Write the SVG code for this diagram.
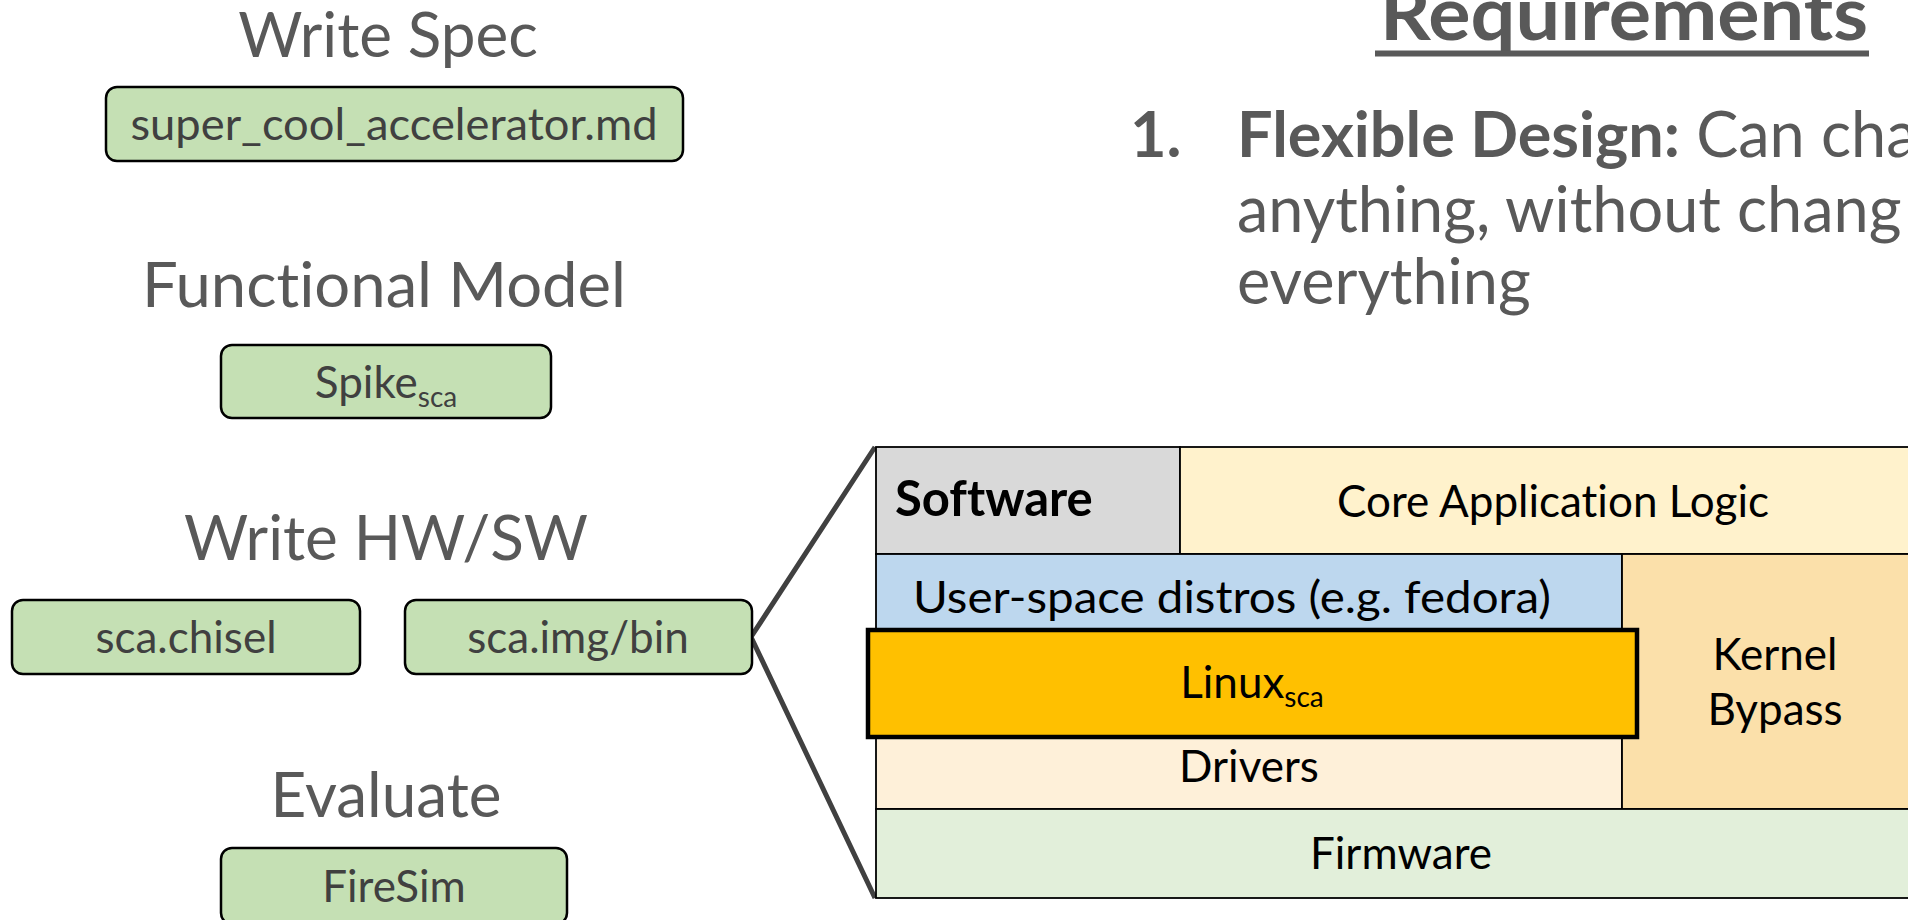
<svg xmlns="http://www.w3.org/2000/svg" width="1908" height="920" viewBox="0 0 1908 920">
<style>
text{font-variant-ligatures:none;font-feature-settings:"liga" 0,"clig" 0}
.hd{font-family:Lato,"Open Sans","Liberation Sans",sans-serif;font-size:62px;fill:#595959;text-anchor:middle}
.bx{fill:#C5E0B4;stroke:#000;stroke-width:2.5}
.bt{font-family:Lato,"Open Sans","Liberation Sans",sans-serif;font-size:44px;fill:#404040;text-anchor:middle}
.cell{stroke:#000;stroke-width:1.8}
.st{font-family:Lato,"Open Sans","Liberation Sans",sans-serif;font-size:44px;fill:#000;text-anchor:middle}
.rq{font-family:Lato,"Open Sans","Liberation Sans",sans-serif;font-size:63px;fill:#595959}
.sub{font-size:28px}
</style>
<rect width="1908" height="920" fill="#FFFFFF"/>

<g id="connectors">
<polyline points="875,447 751,637 875,898" fill="none" stroke="#404040" stroke-width="5" stroke-linejoin="miter"/>
</g>

<g id="write-spec">
<text class="hd" x="388" y="57">Write Spec</text>
<rect class="bx" x="106" y="87" width="577" height="74" rx="11"/>
<text class="bt" x="394" y="140" textLength="527" lengthAdjust="spacingAndGlyphs">super_cool_accelerator.md</text>
</g>

<g id="functional-model">
<text class="hd" x="384" y="307" textLength="484" lengthAdjust="spacingAndGlyphs">Functional Model</text>
<rect class="bx" x="221" y="345" width="330" height="73" rx="11"/>
<text class="bt" x="386" y="398">Spike<tspan class="sub" dy="9">sca</tspan></text>
</g>

<g id="write-hwsw">
<text class="hd" x="386" y="560">Write HW/SW</text>
</g>
<g id="sca-chisel">
<rect class="bx" x="12" y="600" width="348" height="74" rx="11"/>
<text class="bt" x="186" y="653">sca.chisel</text>
</g>
<g id="sca-img">
<rect class="bx" x="405" y="600" width="347" height="74" rx="11"/>
<text class="bt" x="578" y="653">sca.img/bin</text>
</g>

<g id="evaluate">
<text class="hd" x="386" y="817">Evaluate</text>
<rect class="bx" x="221" y="848" width="346" height="76" rx="11"/>
<text class="bt" x="394" y="902">FireSim</text>
</g>

<g id="requirements">
<text x="1380" y="40" font-family="Lato,'Open Sans','Liberation Sans',sans-serif" font-size="75" font-weight="bold" fill="#595959" textLength="488" lengthAdjust="spacingAndGlyphs">Requirements</text>
<rect x="1375" y="50.5" width="494" height="6" fill="#595959"/>
<text class="rq" x="1130" y="157" font-weight="bold">1.</text>
<text class="rq" x="1237" y="157"><tspan font-weight="bold">Flexible Design:</tspan> Can cha</text>
<text class="rq" x="1237" y="232">anything, without chang</text>
<text class="rq" x="1237" y="304">everything</text>
</g>

<g id="stack">
<rect class="cell" x="876" y="447" width="304" height="107" fill="#D9D9D9" stroke="#1F3864"/>
<rect class="cell" x="1180" y="447" width="748" height="107" fill="#FFF2CC"/>
<rect class="cell" x="876" y="554" width="746" height="76" fill="#BDD7EE"/>
<rect class="cell" x="876" y="737" width="746" height="72" fill="#FEF0D9"/>
<rect class="cell" x="1622" y="554" width="306" height="255" fill="#FBE0AA"/>
<rect class="cell" x="876" y="809" width="1052" height="89" fill="#E2EFDA"/>
<rect x="868" y="630" width="769" height="107" fill="#FFC000" stroke="#000" stroke-width="4.5"/>
</g>
<g id="software"><text x="895" y="516" font-family="Lato,'Open Sans','Liberation Sans',sans-serif" font-size="49" font-weight="bold" fill="#000">Software</text></g>
<g id="core-app"><text class="st" x="1553" y="517">Core Application Logic</text></g>
<g id="user-space"><text class="st" x="1232" y="613" textLength="638" lengthAdjust="spacingAndGlyphs">User-space distros (e.g. fedora)</text></g>
<g id="linux"><text class="st" x="1252" y="698">Linux<tspan class="sub" dy="9">sca</tspan></text></g>
<g id="drivers"><text class="st" x="1249" y="782">Drivers</text></g>
<g id="kernel-bypass"><text class="st" x="1775" y="670">Kernel</text><text class="st" x="1775" y="725">Bypass</text></g>
<g id="firmware"><text class="st" x="1401" y="869">Firmware</text></g>
</svg>
